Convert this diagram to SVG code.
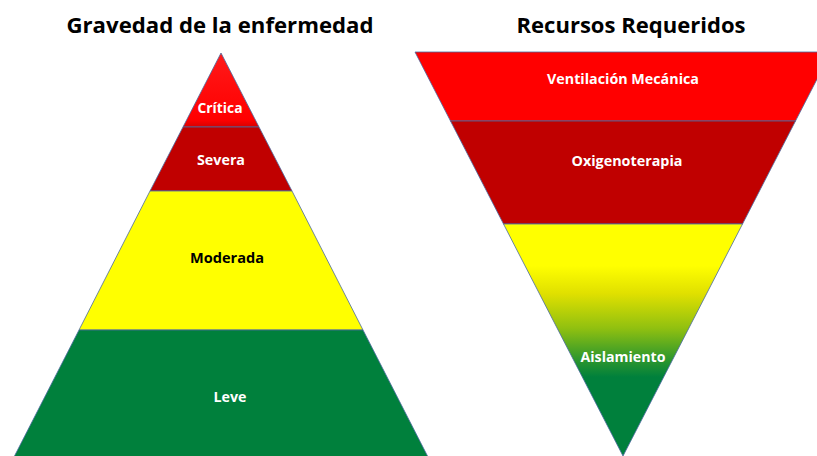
<svg xmlns="http://www.w3.org/2000/svg" width="817" height="456" viewBox="0 0 817 456">
<defs>
<style>
.edge{stroke:#4a6aa0;stroke-width:0.8;stroke-linejoin:miter}
.title{font-family:"Open Sans","Liberation Sans",sans-serif;font-weight:bold;font-size:21px;fill:#000;text-anchor:middle}
.lbl{font-family:"Open Sans","Liberation Sans",sans-serif;font-weight:bold;font-size:13.5px;fill:#fff;text-anchor:middle}
.dark{fill:#000}
</style>
<linearGradient id="gradCrit" x1="0" y1="0" x2="0" y2="1">
<stop offset="0" stop-color="#ff1a1a"/>
<stop offset="0.9" stop-color="#ff0000"/>
<stop offset="1" stop-color="#d80000"/>
</linearGradient>
<linearGradient id="gradAisl" gradientUnits="userSpaceOnUse" x1="0" y1="224" x2="0" y2="456">
<stop offset="0" stop-color="#ffff00"/>
<stop offset="0.18" stop-color="#ffff00"/>
<stop offset="0.3" stop-color="#e0e000"/>
<stop offset="0.45" stop-color="#90c010"/>
<stop offset="0.58" stop-color="#30982c"/>
<stop offset="0.66" stop-color="#00803c"/>
<stop offset="1" stop-color="#00803c"/>
</linearGradient>
</defs>
<rect width="817" height="456" fill="#fff"/>
<text class="title" x="220" y="33" textLength="307" lengthAdjust="spacingAndGlyphs">Gravedad de la enfermedad</text>
<text class="title" x="631" y="33" textLength="229" lengthAdjust="spacingAndGlyphs">Recursos Requeridos</text>
<g id="critica">
<polygon class="edge" points="221,53 183,127 259,127" fill="url(#gradCrit)"/>
<text class="lbl" x="220" y="113" textLength="45" lengthAdjust="spacingAndGlyphs">Crítica</text>
</g>
<g id="severa">
<polygon class="edge" points="183,127 259,127 292,191 150,191" fill="#c00000"/>
<text class="lbl" x="221" y="165" textLength="48" lengthAdjust="spacingAndGlyphs">Severa</text>
</g>
<g id="moderada">
<polygon class="edge" points="150,191 292,191 363,330 79,330" fill="#ffff00"/>
<text class="lbl dark" x="227" y="263" textLength="74" lengthAdjust="spacingAndGlyphs">Moderada</text>
</g>
<g id="leve">
<polygon class="edge" points="79,330 363,330 428,457 14,457" fill="#00803c"/>
<text class="lbl" x="230" y="402" textLength="33" lengthAdjust="spacingAndGlyphs">Leve</text>
</g>
<g id="ventilacion">
<polygon class="edge" points="415,52 831,52 795.5,121 450.5,121" fill="#ff0000"/>
<text class="lbl" x="623" y="84" textLength="152" lengthAdjust="spacingAndGlyphs">Ventilación Mecánica</text>
</g>
<g id="oxigenoterapia">
<polygon class="edge" points="450.5,121 795.5,121 742.5,224 503.5,224" fill="#c00000"/>
<text class="lbl" x="627" y="166" textLength="111" lengthAdjust="spacingAndGlyphs">Oxigenoterapia</text>
</g>
<g id="aislamiento">
<polygon class="edge" points="503.5,224 742.5,224 623,456" fill="url(#gradAisl)"/>
<text class="lbl" x="623" y="362" textLength="85" lengthAdjust="spacingAndGlyphs">Aislamiento</text>
</g>
<g id="connectors"></g>
</svg>
